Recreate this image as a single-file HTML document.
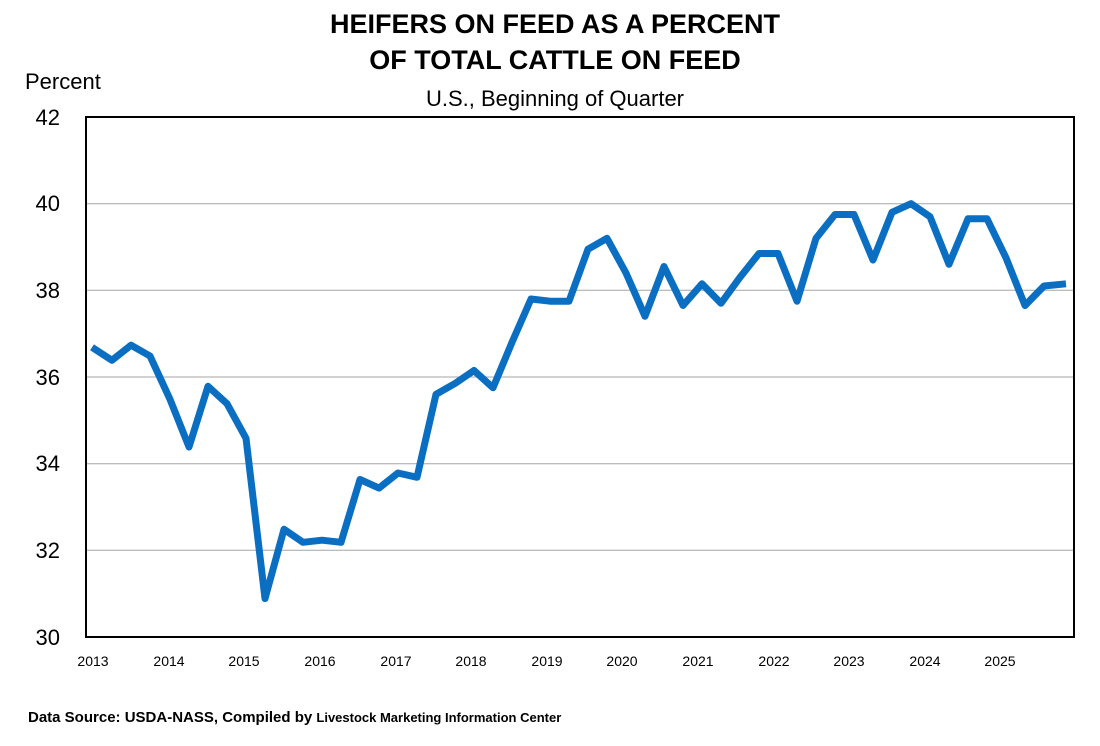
<!DOCTYPE html>
<html><head><meta charset="utf-8"><style>
body{margin:0;background:#fff;width:1100px;height:741px;overflow:hidden;font-family:"Liberation Sans",sans-serif}
</style></head><body>
<svg width="1100" height="741" xmlns="http://www.w3.org/2000/svg" font-family="Liberation Sans, sans-serif">
<text x="555" y="33" text-anchor="middle" font-size="27" font-weight="bold">HEIFERS ON FEED AS A PERCENT</text>
<text x="555" y="69" text-anchor="middle" font-size="27" font-weight="bold">OF TOTAL CATTLE ON FEED</text>
<text x="555" y="106" text-anchor="middle" font-size="22">U.S., Beginning of Quarter</text>
<text x="25" y="89" font-size="22">Percent</text>
<g stroke="#a6a6a6" stroke-width="1">
<line x1="86" x2="1074" y1="203.7" y2="203.7"/>
<line x1="86" x2="1074" y1="290.3" y2="290.3"/>
<line x1="86" x2="1074" y1="377" y2="377"/>
<line x1="86" x2="1074" y1="463.7" y2="463.7"/>
<line x1="86" x2="1074" y1="550.3" y2="550.3"/>
</g>
<rect x="86" y="117" width="988" height="520" fill="none" stroke="#000" stroke-width="2"/>
<g font-size="22" text-anchor="end">
<text x="60" y="125">42</text><text x="60" y="211">40</text><text x="60" y="298">38</text>
<text x="60" y="385">36</text><text x="60" y="471">34</text><text x="60" y="558">32</text><text x="60" y="645">30</text>
</g>
<g font-size="14" text-anchor="middle">
<text x="93" y="666">2013</text><text x="169" y="666">2014</text><text x="244" y="666">2015</text><text x="320" y="666">2016</text>
<text x="396" y="666">2017</text><text x="471" y="666">2018</text><text x="547" y="666">2019</text><text x="622" y="666">2020</text>
<text x="698" y="666">2021</text><text x="774" y="666">2022</text><text x="849" y="666">2023</text><text x="925" y="666">2024</text>
<text x="1000" y="666">2025</text>
</g>
<polyline fill="none" stroke="#0a6fc2" stroke-width="7" stroke-linejoin="round" points="
92,347.3 112,360.3 131,345.2 150,356.0
170,399.3 189,447.0 208,386.3 227,403.7
246,438.3 265,598.6 284,529.3 303,542.3
322,540.2 341,542.3 360,479.5 379,488.1
398,473.0 417,477.3 436,394.3 455,383.5
474,370.5 493,387.8 512,342.3 531,299.0
550,301.2 569,301.2 588,249.2 607,238.3
626,273.0 645,316.3 664,266.5 683,305.5
702,283.8 721,303.3 740,277.3 759,253.5
778,253.5 797,301.2 816,238.3 835,214.5
854,214.5 873,260.0 892,212.3 911,203.7
930,216.7 949,264.3 968,218.8 987,218.8
1006,257.8 1025,305.5 1044,286.0 1066,283.8"/>
<text x="28" y="722" font-size="15" font-weight="bold">Data Source:  USDA-NASS, Compiled  by <tspan font-size="13">Livestock Marketing Information Center</tspan></text>
</svg>
</body></html>
